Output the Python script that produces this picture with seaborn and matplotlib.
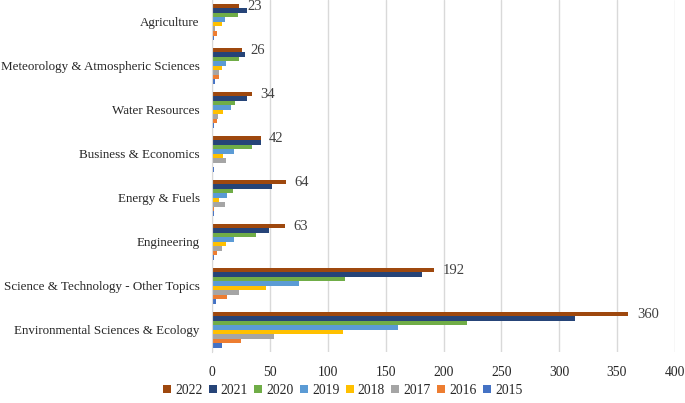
import pandas as pd
import numpy as np
import matplotlib.pyplot as plt
import seaborn as sns


categories = [
    "Agriculture",
    "Meteorology & Atmospheric Sciences",
    "Water Resources",
    "Business & Economics",
    "Energy & Fuels",
    "Engineering",
    "Science & Technology - Other Topics",
    "Environmental Sciences & Ecology",
]
years = ["2022", "2021", "2020", "2019", "2018", "2017", "2016", "2015"]

# counts per year, in the order of categories above
v2022 = [23, 26, 34, 42, 64, 63, 192, 360]
v2021 = [30, 28, 30, 42, 52, 49, 181, 314]
v2020 = [22, 23, 20, 34, 18, 38, 115, 220]
v2019 = [11, 12, 16, 19, 13, 19, 75, 161]
v2018 = [8, 8, 9, 9, 6, 12, 46, 113]
v2017 = [2, 6, 5, 12, 11, 8, 23, 53]
v2016 = [4, 6, 4, 0.5, 1, 4, 13, 25]
v2015 = [1.5, 2, 1.5, 1, 1.5, 1, 3, 8]

colors = ["#9E480E", "#264478", "#70AD47", "#5B9BD5",
          "#FFC000", "#A5A5A5", "#ED7D31", "#4472C4"]

series = [v2022, v2021, v2020, v2019, v2018, v2017, v2016, v2015]
df = pd.DataFrame([
    {"Category": c, "Year": y, "Count": v}
    for y, vals in zip(years, series)
    for c, v in zip(categories, vals)
])

sns.set_style("white")
plt.rcParams["font.family"] = ["Liberation Serif", "DejaVu Serif"]

fig = plt.figure(figsize=(6.85, 4.03), dpi=100)
ax = fig.add_axes([0.31, 0.127, 0.675, 0.873])

sns.barplot(data=df, y="Category", x="Count", hue="Year",
            order=categories, hue_order=years, palette=colors,
            orient="h", width=0.82, linewidth=0, saturation=1,
            legend=True, ax=ax)

# value label only for 2022
ax.bar_label(ax.containers[0], labels=[str(v) for v in v2022],
             padding=6, fontsize=10.5, color="#404040")

ax.set_xlim(0, 400)
ax.set_xticks(np.arange(0, 401, 50))
ax.set_xlabel("")
ax.set_ylabel("")
ax.grid(axis="x", color="#D9D9D9", linewidth=1)
ax.set_axisbelow(True)
for s in ["top", "right", "bottom"]:
    ax.spines[s].set_visible(False)
ax.spines["left"].set_color("#D9D9D9")
ax.tick_params(axis="y", length=0, pad=9, labelsize=9.4, labelcolor="#262626")
ax.tick_params(axis="x", length=0, pad=10, labelsize=9.8, labelcolor="#262626")

handles, labels = ax.get_legend_handles_labels()
ax.get_legend().remove()
fig.legend(handles, labels, loc="lower center", bbox_to_anchor=(0.5, -0.015),
           ncol=8, frameon=False, fontsize=9.8, handlelength=0.6,
           handleheight=0.6, handletextpad=0.3, columnspacing=0.45)

fig.savefig("out.png", dpi=100)
